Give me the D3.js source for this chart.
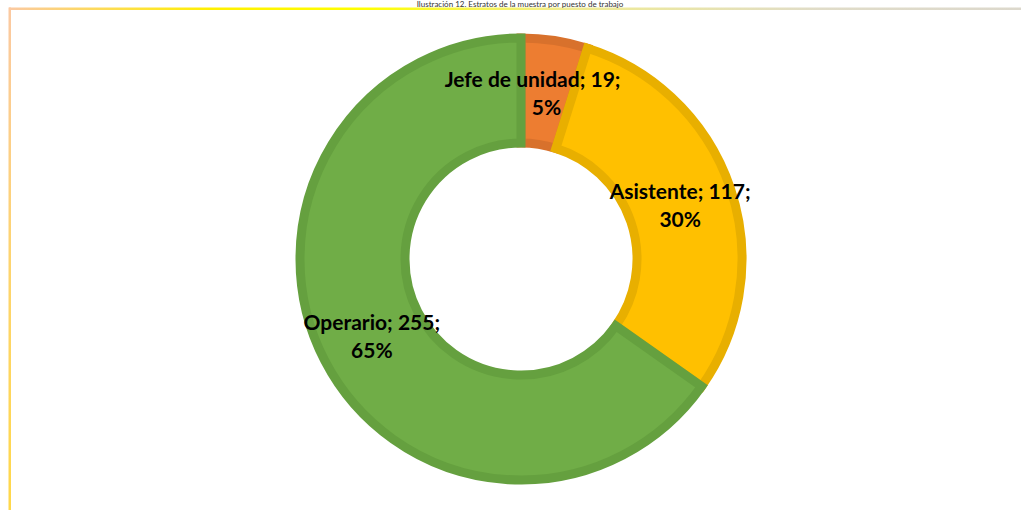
<!DOCTYPE html>
<html><head><meta charset="utf-8">
<script src="https://cdn.jsdelivr.net/npm/d3@7"></script>
<style>html,body{margin:0;padding:0;background:#fff;overflow:hidden}</style>
</head><body>
<svg id="c" width="1021" height="510"></svg>
<script>
const categories = ["Jefe de unidad", "Asistente", "Operario"];
const values = [19, 117, 255];
const percentLabels = ["5%", "30%", "65%"];
const fills = ["#ED7D31", "#FFC000", "#70AD47"];
const strokes = ["#D8712C", "#E8AF00", "#65A03F"];
const title = "Ilustración 12. Estratos de la muestra por puesto de trabajo";

const svg = d3.select("#c");
const W = 1021, H = 510;
const defs = svg.append("defs");
const gTop = defs.append("linearGradient").attr("id","gTop").attr("x1","0").attr("x2","1").attr("y1","0").attr("y2","0");
[[0,"#FBC9A2"],[0.2,"#FFF000"],[0.35,"#FFFF00"],[0.55,"#F0EC90"],[0.8,"#E0DCC8"],[1,"#DCD8CC"]].forEach(s=>gTop.append("stop").attr("offset",s[0]).attr("stop-color",s[1]));
const gLeft = defs.append("linearGradient").attr("id","gLeft").attr("x1","0").attr("x2","0").attr("y1","0").attr("y2","1");
[[0,"#FBC9A2"],[0.5,"#FDD470"],[1,"#FFD84A"]].forEach(s=>gLeft.append("stop").attr("offset",s[0]).attr("stop-color",s[1]));

svg.append("rect").attr("x",9).attr("y",7.5).attr("width",W-9).attr("height",2.5).attr("fill","url(#gTop)");
svg.append("rect").attr("x",8.5).attr("y",7.5).attr("width",2.5).attr("height",H-7.5).attr("fill","url(#gLeft)");

svg.append("text").attr("x",520).attr("y",6.5).attr("text-anchor","middle")
  .attr("font-family","Lato, 'Open Sans', sans-serif").attr("font-size",8).attr("fill","#333")
  .text(title);

const cx = 521, cy = 259;
const rOut = 221, rIn = 116;
const pie = d3.pie().sort(null).value(d=>d)(values);
const arc = d3.arc().innerRadius(rIn).outerRadius(rOut);
const g = svg.append("g").attr("transform",`translate(${cx},${cy})`);
g.selectAll("path").data(pie).join("path")
  .attr("d",arc)
  .attr("fill",(d,i)=>fills[i])
  .attr("stroke",(d,i)=>strokes[i])
  .attr("stroke-width",9)
  .attr("stroke-linejoin","miter");

const labelArc = d3.arc().innerRadius(168).outerRadius(168);
const nudge = {"Jefe de unidad":[-14,0]};
const lg = g.selectAll("g.lab").data(pie).join("g").attr("class","lab");
lg.each(function(d,i){
  const [x,y] = labelArc.centroid(d);
  const t = d3.select(this).append("text")
    .attr("text-anchor","middle")
    .attr("font-family","Lato, 'Open Sans', sans-serif")
    .attr("font-weight","bold").attr("font-size",21).attr("fill","#000");
  const n = nudge[categories[i]] || [0,0];
  t.append("tspan").attr("x",x+n[0]).attr("y",y-6).text(`${categories[i]}; ${values[i]};`);
  t.append("tspan").attr("x",x).attr("y",y+22).text(percentLabels[i]);
});
</script>
</body></html>
